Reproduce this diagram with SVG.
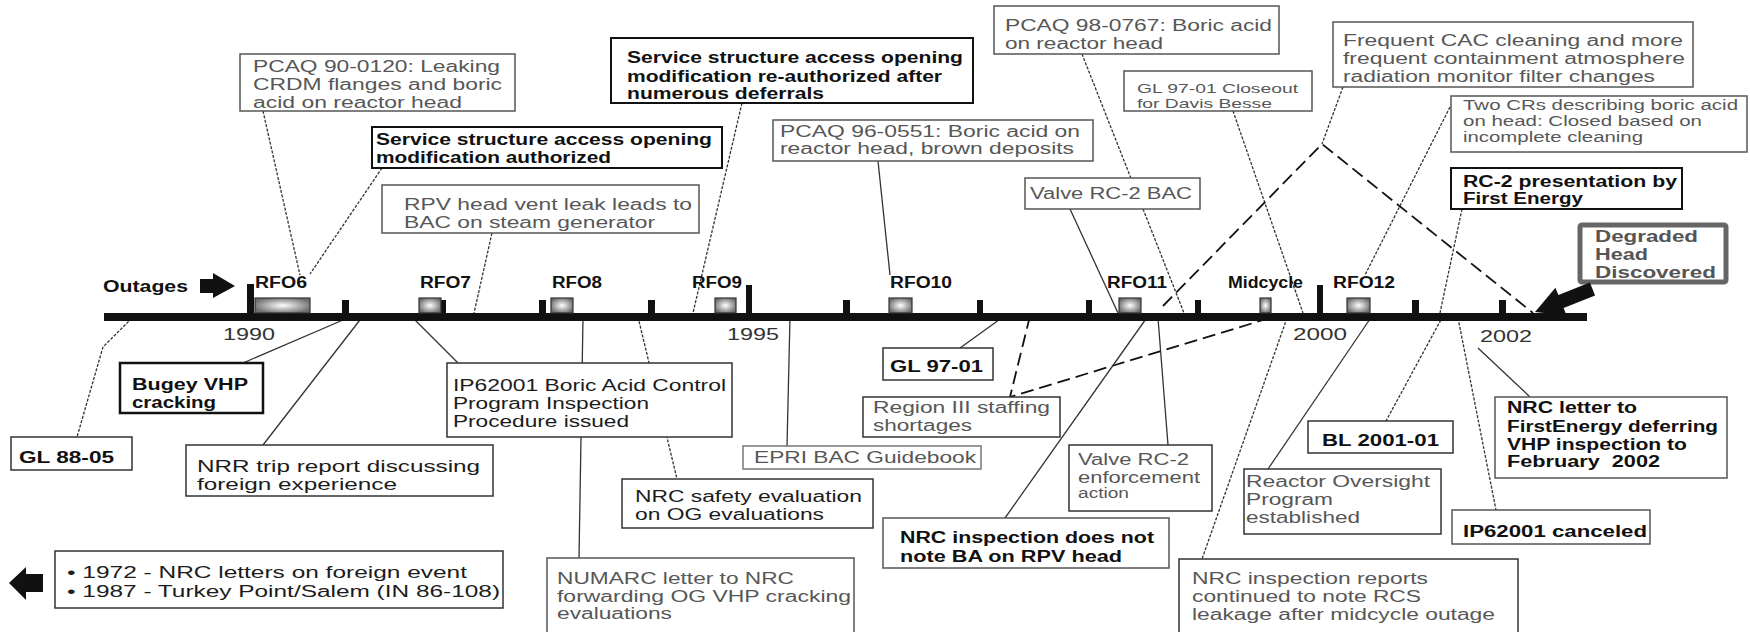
<svg xmlns="http://www.w3.org/2000/svg" width="1750" height="632" viewBox="0 0 1750 632">
<style>
.box{fill:#fff;stroke:#555;stroke-width:1.5}
.boxb{fill:#fff;stroke:#111;stroke-width:2}
text{font-family:"Liberation Sans",Arial,sans-serif;font-size:16px;fill:#575757}
.k{fill:#1c1c1c}
.b{font-weight:bold;fill:#111}
.yr{font-size:17px;fill:#333}
.ln{stroke:#333;stroke-width:1.3;fill:none}
.dt{stroke-dasharray:3 1.5}
.ld{stroke:#111;stroke-width:1.8;fill:none;stroke-dasharray:13 6}
.tick{fill:#111}
.rfo{stroke:#333;stroke-width:1.2}
</style>
<defs>
<radialGradient id="g" cx="50%" cy="50%" r="55%">
<stop offset="0" stop-color="#ffffff"/>
<stop offset="1" stop-color="#6e6e6e"/>
</radialGradient>
</defs>
<rect width="1750" height="632" fill="#fff"/>

<g id="connectors">
<line class="ln dt" x1="263" y1="111" x2="300" y2="275"/>
<line class="ln dt" x1="382" y1="168" x2="310" y2="274"/>
<line class="ln dt" x1="492" y1="233" x2="474" y2="313"/>
<line class="ln dt" x1="742" y1="103" x2="693" y2="313"/>
<line class="ln" x1="878" y1="161" x2="890" y2="275"/>
<line class="ln dt" x1="1082" y1="54" x2="1184" y2="313"/>
<line class="ln" x1="1070" y1="209" x2="1118" y2="313"/>
<line class="ln dt" x1="1233" y1="111" x2="1303" y2="313"/>
<line class="ln dt" x1="1343" y1="87" x2="1322" y2="144"/>
<polyline class="ld" points="1163,306 1322,144 1533,313"/>
<line class="ln dt" x1="1450" y1="107" x2="1365" y2="275"/>
<line class="ln dt" x1="1462" y1="209" x2="1440" y2="313"/>
<polyline class="ln dt" points="135,315 103,347 77,437"/>
<line class="ln" x1="343" y1="320" x2="243" y2="363"/>
<line class="ln" x1="363" y1="316" x2="263" y2="445"/>
<line class="ln" x1="412" y1="317" x2="458" y2="363"/>
<line class="ln" x1="583" y1="317" x2="579" y2="558"/>
<line class="ln dt" x1="638" y1="317" x2="677" y2="479"/>
<line class="ln" x1="790" y1="317" x2="787" y2="446"/>
<line class="ln" x1="1003" y1="317" x2="960" y2="348"/>
<polyline class="ld" points="1030,316 1010,397 1273,317"/>
<line class="ln" x1="1148" y1="316" x2="1005" y2="518"/>
<line class="ln" x1="1158" y1="318" x2="1168" y2="445"/>
<line class="ln dt" x1="1287" y1="318" x2="1202" y2="559"/>
<line class="ln" x1="1370" y1="319" x2="1268" y2="469"/>
<line class="ln dt" x1="1443" y1="316" x2="1386" y2="421"/>
<line class="ln dt" x1="1458" y1="318" x2="1496" y2="510"/>
<line class="ln" x1="1478" y1="348" x2="1530" y2="397"/>
</g>

<g id="timeline">
<rect x="104" y="313" width="1483" height="8" fill="#111"/>
<rect class="tick" x="247" y="284" width="7" height="36"/>
<rect class="tick" x="342" y="300" width="7" height="20"/>
<rect class="tick" x="439" y="300" width="7" height="20"/>
<rect class="tick" x="539" y="300" width="7" height="20"/>
<rect class="tick" x="648" y="300" width="7" height="20"/>
<rect class="tick" x="746" y="285" width="6" height="35"/>
<rect class="tick" x="843" y="300" width="7" height="20"/>
<rect class="tick" x="977" y="300" width="6" height="20"/>
<rect class="tick" x="1086" y="300" width="6" height="20"/>
<rect class="tick" x="1195" y="300" width="6" height="20"/>
<rect class="tick" x="1317" y="285" width="6" height="35"/>
<rect class="tick" x="1412" y="300" width="7" height="20"/>
<rect class="tick" x="1499" y="300" width="7" height="20"/>
<rect class="rfo" x="255" y="298" width="55" height="15" fill="url(#g)"/>
<rect class="rfo" x="419" y="298" width="22" height="15" fill="url(#g)"/>
<rect class="rfo" x="551" y="298" width="22" height="15" fill="url(#g)"/>
<rect class="rfo" x="715" y="298" width="21" height="15" fill="url(#g)"/>
<rect class="rfo" x="889" y="298" width="23" height="15" fill="url(#g)"/>
<rect class="rfo" x="1119" y="298" width="22" height="15" fill="url(#g)"/>
<rect class="rfo" x="1260" y="298" width="11" height="15" fill="url(#g)"/>
<rect class="rfo" x="1347" y="298" width="23" height="15" fill="url(#g)"/>
<text class="b" x="255" y="288" textLength="52" lengthAdjust="spacingAndGlyphs">RFO6</text>
<text class="b" x="420" y="288" textLength="51" lengthAdjust="spacingAndGlyphs">RFO7</text>
<text class="b" x="552" y="288" textLength="50" lengthAdjust="spacingAndGlyphs">RFO8</text>
<text class="b" x="692" y="288" textLength="50" lengthAdjust="spacingAndGlyphs">RFO9</text>
<text class="b" x="890" y="288" textLength="62" lengthAdjust="spacingAndGlyphs">RFO10</text>
<text class="b" x="1107" y="288" textLength="60" lengthAdjust="spacingAndGlyphs">RFO11</text>
<text class="b" x="1228" y="288" textLength="75" lengthAdjust="spacingAndGlyphs">Midcycle</text>
<text class="b" x="1333" y="288" textLength="62" lengthAdjust="spacingAndGlyphs">RFO12</text>
<text class="yr" x="223" y="340" textLength="52" lengthAdjust="spacingAndGlyphs">1990</text>
<text class="yr" x="727" y="340" textLength="52" lengthAdjust="spacingAndGlyphs">1995</text>
<text class="yr" x="1293" y="340" textLength="54" lengthAdjust="spacingAndGlyphs">2000</text>
<text class="yr" x="1480" y="342" textLength="52" lengthAdjust="spacingAndGlyphs">2002</text>
</g>

<g id="outages">
<text class="b" x="103" y="292" textLength="85" lengthAdjust="spacingAndGlyphs">Outages</text>
<polygon points="200,279 213,279 213,273 235,286 213,298 213,293 200,293" fill="#111"/>
</g>

<g id="pcaq90">
<rect class="box" x="240" y="54" width="275" height="57"/>
<text x="253" y="72" textLength="247" lengthAdjust="spacingAndGlyphs">PCAQ 90-0120: Leaking</text>
<text x="253" y="90" textLength="249" lengthAdjust="spacingAndGlyphs">CRDM flanges and boric</text>
<text x="253" y="108" textLength="209" lengthAdjust="spacingAndGlyphs">acid on reactor head</text>
</g>

<g id="service-authorized">
<rect class="boxb" x="372" y="127" width="350" height="41"/>
<text class="b" x="376" y="145" textLength="336" lengthAdjust="spacingAndGlyphs">Service structure access opening</text>
<text class="b" x="376" y="163" textLength="235" lengthAdjust="spacingAndGlyphs">modification authorized</text>
</g>

<g id="rpv-vent">
<rect class="box" x="382" y="185" width="317" height="48"/>
<text x="404" y="210" textLength="288" lengthAdjust="spacingAndGlyphs">RPV head vent leak leads to</text>
<text x="404" y="228" textLength="251" lengthAdjust="spacingAndGlyphs">BAC on steam generator</text>
</g>

<g id="service-reauthorized">
<rect class="boxb" x="611" y="38" width="362" height="65"/>
<text class="b" x="627" y="63" textLength="336" lengthAdjust="spacingAndGlyphs">Service structure access opening</text>
<text class="b" x="627" y="82" textLength="315" lengthAdjust="spacingAndGlyphs">modification re-authorized after</text>
<text class="b" x="627" y="99" textLength="197" lengthAdjust="spacingAndGlyphs">numerous deferrals</text>
</g>

<g id="pcaq96">
<rect class="box" x="773" y="120" width="320" height="41"/>
<text x="780" y="137" textLength="300" lengthAdjust="spacingAndGlyphs">PCAQ 96-0551: Boric acid on</text>
<text x="780" y="154" textLength="294" lengthAdjust="spacingAndGlyphs">reactor head, brown deposits</text>
</g>

<g id="pcaq98">
<rect class="box" x="994" y="6" width="285" height="48"/>
<text x="1005" y="31" textLength="267" lengthAdjust="spacingAndGlyphs">PCAQ 98-0767: Boric acid</text>
<text x="1005" y="49" textLength="158" lengthAdjust="spacingAndGlyphs">on reactor head</text>
</g>

<g id="gl9701-closeout">
<rect class="box" x="1124" y="71" width="188" height="40"/>
<text x="1137" y="93" style="font-size:13px" textLength="161" lengthAdjust="spacingAndGlyphs">GL 97-01 Closeout</text>
<text x="1137" y="108" style="font-size:13px" textLength="135" lengthAdjust="spacingAndGlyphs">for Davis Besse</text>
</g>

<g id="valve-rc2-bac">
<rect class="box" x="1025" y="178" width="175" height="31"/>
<text x="1030" y="199" textLength="162" lengthAdjust="spacingAndGlyphs">Valve RC-2 BAC</text>
</g>

<g id="frequent-cac">
<rect class="box" x="1333" y="22" width="360" height="65"/>
<text x="1343" y="46" textLength="340" lengthAdjust="spacingAndGlyphs">Frequent CAC cleaning and more</text>
<text x="1343" y="64" textLength="342" lengthAdjust="spacingAndGlyphs">frequent containment atmosphere</text>
<text x="1343" y="82" textLength="312" lengthAdjust="spacingAndGlyphs">radiation monitor filter changes</text>
</g>

<g id="two-crs">
<rect class="box" x="1451" y="96" width="296" height="56"/>
<text x="1463" y="110" style="font-size:14px" textLength="275" lengthAdjust="spacingAndGlyphs">Two CRs describing boric acid</text>
<text x="1463" y="126" style="font-size:14px" textLength="239" lengthAdjust="spacingAndGlyphs">on head: Closed based on</text>
<text x="1463" y="142" style="font-size:14px" textLength="180" lengthAdjust="spacingAndGlyphs">incomplete cleaning</text>
</g>

<g id="rc2-presentation">
<rect class="boxb" x="1451" y="168" width="231" height="41"/>
<text class="b" x="1463" y="187" textLength="214" lengthAdjust="spacingAndGlyphs">RC-2 presentation by</text>
<text class="b" x="1463" y="204" textLength="120" lengthAdjust="spacingAndGlyphs">First Energy</text>
</g>

<g id="degraded-head">
<rect x="1580" y="225" width="146" height="57" rx="2" fill="#fff" stroke="#666" stroke-width="5"/>
<text class="b" x="1595" y="242" style="fill:#555" textLength="103" lengthAdjust="spacingAndGlyphs">Degraded</text>
<text class="b" x="1595" y="260" style="fill:#555" textLength="53" lengthAdjust="spacingAndGlyphs">Head</text>
<text class="b" x="1595" y="278" style="fill:#555" textLength="121" lengthAdjust="spacingAndGlyphs">Discovered</text>
<polygon points="1535,312 1555.4,287.7 1558.4,295.1 1589.9,282.5 1595.1,295.5 1563.6,308.1 1566.6,315.5" fill="#111"/>
</g>

<g id="gl8805">
<rect class="box" x="11" y="437" width="121" height="33" style="stroke:#333"/>
<text class="b" x="19" y="463" textLength="95" lengthAdjust="spacingAndGlyphs">GL 88-05</text>
</g>

<g id="bugey">
<rect class="boxb" x="120" y="363" width="143" height="50" style="stroke-width:2.5"/>
<text class="b" x="132" y="390" textLength="116" lengthAdjust="spacingAndGlyphs">Bugey VHP</text>
<text class="b" x="132" y="408" textLength="84" lengthAdjust="spacingAndGlyphs">cracking</text>
</g>

<g id="nrr-trip">
<rect class="box" x="186" y="445" width="307" height="51" style="stroke:#333"/>
<text class="k" x="197" y="472" textLength="283" lengthAdjust="spacingAndGlyphs">NRR trip report discussing</text>
<text class="k" x="197" y="490" textLength="200" lengthAdjust="spacingAndGlyphs">foreign experience</text>
</g>

<g id="early-events">
<polygon points="9,583 26,567 26,574 43,574 43,592 26,592 26,600" fill="#111"/>
<rect class="box" x="55" y="551" width="448" height="57" style="stroke:#333"/>
<text class="k" x="67" y="578" textLength="400" lengthAdjust="spacingAndGlyphs">• 1972 - NRC letters on foreign event</text>
<text class="k" x="67" y="597" textLength="433" lengthAdjust="spacingAndGlyphs">• 1987 - Turkey Point/Salem (IN 86-108)</text>
</g>

<g id="ip62001-issued">
<rect class="box" x="447" y="363" width="285" height="74" style="stroke:#333"/>
<text class="k" x="453" y="391" textLength="273" lengthAdjust="spacingAndGlyphs">IP62001 Boric Acid Control</text>
<text class="k" x="453" y="409" textLength="196" lengthAdjust="spacingAndGlyphs">Program Inspection</text>
<text class="k" x="453" y="427" textLength="176" lengthAdjust="spacingAndGlyphs">Procedure issued</text>
</g>

<g id="numarc">
<rect class="box" x="547" y="558" width="307" height="84"/>
<text x="557" y="584" textLength="237" lengthAdjust="spacingAndGlyphs">NUMARC letter to NRC</text>
<text x="557" y="602" textLength="294" lengthAdjust="spacingAndGlyphs">forwarding OG VHP cracking</text>
<text x="557" y="619" textLength="115" lengthAdjust="spacingAndGlyphs">evaluations</text>
</g>

<g id="nrc-safety-eval">
<rect class="box" x="622" y="479" width="251" height="49" style="stroke:#333"/>
<text class="k" x="635" y="502" textLength="227" lengthAdjust="spacingAndGlyphs">NRC safety evaluation</text>
<text class="k" x="635" y="520" textLength="189" lengthAdjust="spacingAndGlyphs">on OG evaluations</text>
</g>

<g id="epri">
<rect class="box" x="743" y="446" width="238" height="23" style="stroke:#777"/>
<text x="754" y="463" textLength="222" lengthAdjust="spacingAndGlyphs">EPRI BAC Guidebook</text>
</g>

<g id="gl9701">
<rect class="box" x="883" y="348" width="110" height="32" style="stroke:#333"/>
<text class="b" x="890" y="372" textLength="93" lengthAdjust="spacingAndGlyphs">GL 97-01</text>
</g>

<g id="region3">
<rect class="box" x="863" y="397" width="197" height="40" style="stroke:#333"/>
<text x="873" y="413" textLength="177" lengthAdjust="spacingAndGlyphs">Region III staffing</text>
<text x="873" y="431" textLength="99" lengthAdjust="spacingAndGlyphs">shortages</text>
</g>

<g id="valve-rc2-enforcement">
<rect class="box" x="1069" y="445" width="143" height="66" style="stroke:#333"/>
<text x="1078" y="465" textLength="111" lengthAdjust="spacingAndGlyphs">Valve RC-2</text>
<text x="1078" y="483" textLength="122" lengthAdjust="spacingAndGlyphs">enforcement</text>
<text x="1078" y="498" style="font-size:14px" textLength="51" lengthAdjust="spacingAndGlyphs">action</text>
</g>

<g id="nrc-insp-not-note">
<rect class="box" x="883" y="518" width="286" height="50"/>
<text class="b" x="900" y="543" textLength="254" lengthAdjust="spacingAndGlyphs">NRC inspection does not</text>
<text class="b" x="900" y="562" textLength="222" lengthAdjust="spacingAndGlyphs">note BA on RPV head</text>
</g>

<g id="reactor-oversight">
<rect class="box" x="1244" y="469" width="197" height="65" style="stroke:#333"/>
<text x="1246" y="487" textLength="184" lengthAdjust="spacingAndGlyphs">Reactor Oversight</text>
<text x="1246" y="505" textLength="87" lengthAdjust="spacingAndGlyphs">Program</text>
<text x="1246" y="523" textLength="114" lengthAdjust="spacingAndGlyphs">established</text>
</g>

<g id="nrc-insp-reports">
<rect class="box" x="1179" y="559" width="339" height="84" style="stroke:#333"/>
<text x="1192" y="584" textLength="236" lengthAdjust="spacingAndGlyphs">NRC inspection reports</text>
<text x="1192" y="602" textLength="229" lengthAdjust="spacingAndGlyphs">continued to note RCS</text>
<text x="1192" y="620" textLength="303" lengthAdjust="spacingAndGlyphs">leakage after midcycle outage</text>
</g>

<g id="bl2001">
<rect class="box" x="1308" y="421" width="145" height="32" style="stroke:#333"/>
<text class="b" x="1322" y="446" textLength="117" lengthAdjust="spacingAndGlyphs">BL 2001-01</text>
</g>

<g id="ip62001-canceled">
<rect class="box" x="1452" y="510" width="198" height="34"/>
<text class="b" x="1463" y="537" textLength="184" lengthAdjust="spacingAndGlyphs">IP62001 canceled</text>
</g>

<g id="nrc-letter">
<rect class="box" x="1495" y="397" width="232" height="81"/>
<text class="b" x="1507" y="413" textLength="130" lengthAdjust="spacingAndGlyphs">NRC letter to</text>
<text class="b" x="1507" y="432" textLength="211" lengthAdjust="spacingAndGlyphs">FirstEnergy deferring</text>
<text class="b" x="1507" y="450" textLength="180" lengthAdjust="spacingAndGlyphs">VHP inspection to</text>
<text class="b" x="1507" y="467" textLength="153" lengthAdjust="spacingAndGlyphs" xml:space="preserve">February  2002</text>
</g>
</svg>
